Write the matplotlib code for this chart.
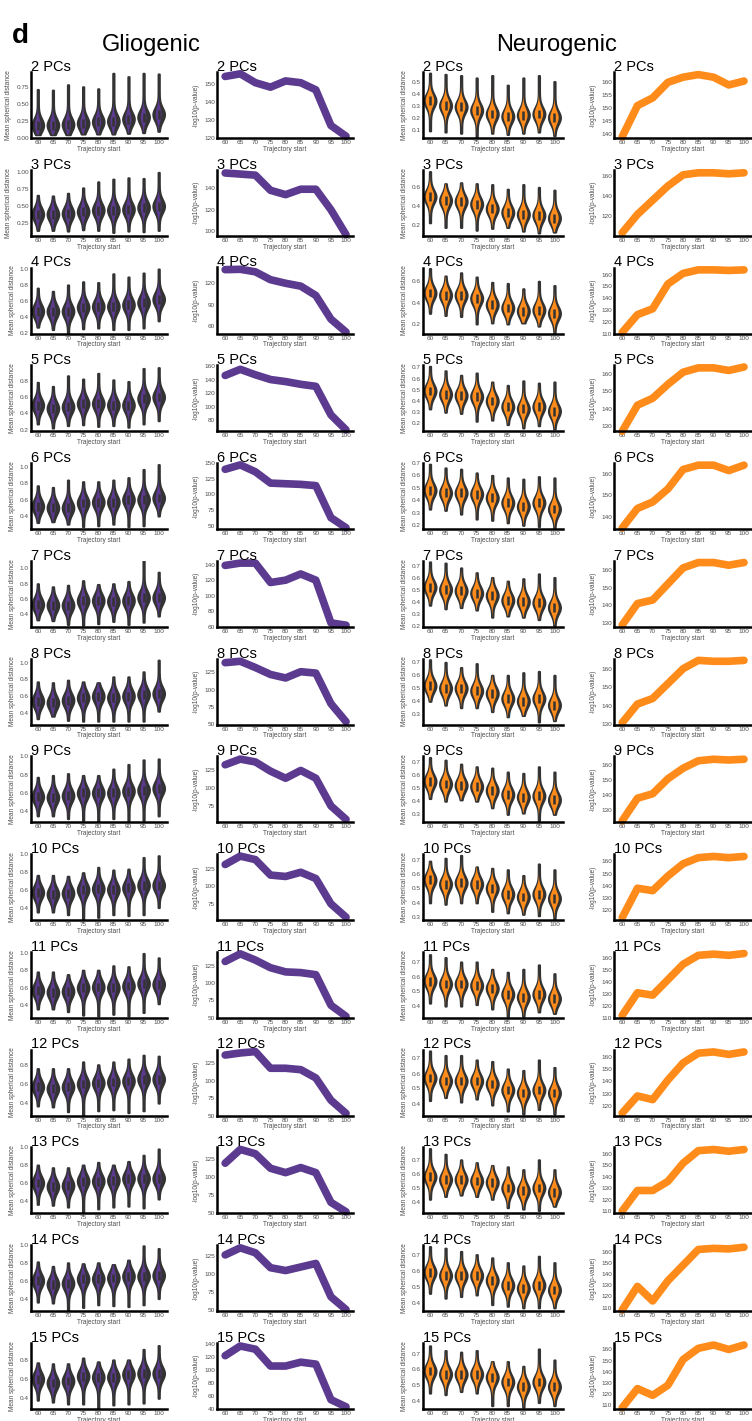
import numpy as np
import matplotlib
matplotlib.use('Agg')
import matplotlib.pyplot as plt
from matplotlib.ticker import MultipleLocator, FormatStrFormatter

plt.rcParams['font.family'] = ['Liberation Sans', 'DejaVu Sans']

starts = [60, 65, 70, 75, 80, 85, 90, 95, 100]
pcs = list(range(2, 16))

# -log10(p-value) per trajectory start
glio_pval = {
    2: [154.5, 156, 151, 148.5, 152, 151, 147, 127, 121],
    3: [154, 153, 152, 138, 134, 139, 139, 120, 97],
    4: [139, 139.5, 136, 125, 120, 116, 103, 70, 52],
    5: [146, 155, 147, 140, 137, 133, 130, 88, 66],
    6: [140, 147, 136, 118, 117, 116, 114, 63, 47],
    7: [139, 142, 142, 117, 120, 128, 120, 65, 62],
    8: [139, 141, 132, 122, 117, 126, 124, 80, 54],
    9: [133, 141, 137, 124, 114, 125, 114, 75, 56],
    10: [131, 143, 138, 116, 114, 120, 111, 75, 56],
    11: [131, 142, 133, 122, 116, 115, 112, 68, 52],
    12: [137, 140, 142, 118, 118, 116, 104, 72, 53],
    13: [119, 138, 132, 112, 106, 113, 106, 65, 52],
    14: [127, 137, 130, 109, 105, 110, 115, 68, 50],
    15: [122, 137, 132, 106, 106, 112, 109, 54, 43],
}
neuro_pval = {
    2: [139, 151, 154, 160, 162, 163, 162, 159, 160.5],
    3: [104, 122, 136, 150, 161, 163, 163, 162, 163],
    4: [111, 126, 131, 152, 161, 164, 164, 163.5, 164],
    5: [127, 142, 146, 154, 161, 163.5, 163.5, 162, 164],
    6: [135, 144, 147, 153, 162, 164, 164, 161.5, 164],
    7: [129, 141, 143, 152, 161, 164, 164, 162.5, 164],
    8: [131, 141, 144, 152, 160, 164.5, 164, 164, 164.5],
    9: [123, 138, 141, 151, 158, 163, 164, 163.5, 164],
    10: [114, 138, 136, 148, 158, 163, 164, 163, 164],
    11: [112, 131, 129, 142, 155, 162.5, 163.5, 162.5, 164],
    12: [114, 128, 125, 141, 155, 163, 164, 162, 164],
    13: [110, 128, 128, 136, 152, 163, 164, 162.5, 164],
    14: [108, 129, 116, 134, 148, 162, 163, 162.5, 164],
    15: [108, 125, 119, 128, 151, 161, 164, 160, 164],
}
glio_plim = {2: (120, 157), 3: (96, 157), 4: (50, 142), 5: (64, 161),
             6: (45, 150), 7: (60, 145), 8: (50, 145), 9: (52, 145),
             10: (52, 146), 11: (50, 145), 12: (50, 145), 13: (50, 141),
             14: (48, 141), 15: (40, 142)}
neuro_plim = {2: (138.5, 164), 3: (101, 166), 4: (110, 166), 5: (127, 165),
              6: (134.5, 165), 7: (128, 165), 8: (130, 165.5), 9: (122, 166),
              10: (112, 166), 11: (110, 165.5), 12: (112, 166), 13: (108, 166),
              14: (107, 166), 15: (107, 166)}
glio_pstep = {2: 10, 3: 20, 4: 30, 5: 20, 6: 25, 7: 20, 8: 25, 9: 25,
              10: 25, 11: 25, 12: 25, 13: 25, 14: 25, 15: 20}
neuro_pstep = {2: 5, 3: 20, 4: 10, 5: 10, 6: 10, 7: 10, 8: 10, 9: 10,
               10: 10, 11: 10, 12: 10, 13: 10, 14: 10, 15: 10}

# mean spherical distance: median, lowest and highest value per violin
glio_med = {
    2: [0.19, 0.19, 0.2, 0.22, 0.24, 0.25, 0.28, 0.31, 0.35],
    3: [0.38, 0.38, 0.39, 0.42, 0.44, 0.44, 0.45, 0.48, 0.5],
    4: [0.47, 0.47, 0.47, 0.52, 0.53, 0.53, 0.55, 0.58, 0.62],
    5: [0.5, 0.46, 0.48, 0.52, 0.52, 0.5, 0.5, 0.58, 0.6],
    6: [0.52, 0.5, 0.5, 0.56, 0.57, 0.57, 0.6, 0.6, 0.62],
    7: [0.53, 0.52, 0.52, 0.58, 0.58, 0.57, 0.58, 0.62, 0.62],
    8: [0.54, 0.52, 0.55, 0.58, 0.6, 0.58, 0.6, 0.62, 0.63],
    9: [0.56, 0.55, 0.57, 0.6, 0.6, 0.6, 0.62, 0.63, 0.65],
    10: [0.57, 0.55, 0.56, 0.6, 0.61, 0.6, 0.62, 0.65, 0.65],
    11: [0.57, 0.55, 0.56, 0.6, 0.61, 0.6, 0.62, 0.65, 0.64],
    12: [0.57, 0.55, 0.57, 0.6, 0.61, 0.62, 0.63, 0.65, 0.65],
    13: [0.6, 0.56, 0.57, 0.62, 0.62, 0.63, 0.65, 0.65, 0.65],
    14: [0.6, 0.56, 0.57, 0.62, 0.62, 0.63, 0.65, 0.65, 0.66],
    15: [0.6, 0.56, 0.58, 0.63, 0.62, 0.62, 0.65, 0.66, 0.66],
}
glio_lo = {
    2: [0.05, 0.05, 0.05, 0.06, 0.06, 0.06, 0.07, 0.08, 0.1],
    3: [0.14, 0.14, 0.13, 0.15, 0.14, 0.11, 0.13, 0.12, 0.14],
    4: [0.27, 0.24, 0.19, 0.25, 0.26, 0.24, 0.24, 0.26, 0.35],
    5: [0.27, 0.22, 0.25, 0.26, 0.24, 0.25, 0.23, 0.27, 0.31],
    6: [0.32, 0.33, 0.3, 0.27, 0.28, 0.3, 0.27, 0.28, 0.4],
    7: [0.33, 0.32, 0.27, 0.26, 0.28, 0.31, 0.27, 0.3, 0.38],
    8: [0.33, 0.36, 0.31, 0.3, 0.3, 0.3, 0.3, 0.3, 0.42],
    9: [0.35, 0.35, 0.32, 0.3, 0.29, 0.32, 0.3, 0.3, 0.35],
    10: [0.35, 0.35, 0.32, 0.27, 0.29, 0.32, 0.31, 0.32, 0.4],
    11: [0.36, 0.36, 0.33, 0.29, 0.28, 0.3, 0.28, 0.32, 0.42],
    12: [0.37, 0.36, 0.31, 0.27, 0.32, 0.33, 0.3, 0.32, 0.4],
    13: [0.36, 0.35, 0.33, 0.27, 0.31, 0.33, 0.34, 0.32, 0.42],
    14: [0.36, 0.35, 0.26, 0.3, 0.33, 0.32, 0.31, 0.33, 0.4],
    15: [0.38, 0.36, 0.34, 0.34, 0.28, 0.33, 0.34, 0.35, 0.4],
}
glio_hi = {
    2: [0.72, 0.71, 0.79, 0.76, 0.73, 0.96, 0.91, 0.96, 0.95],
    3: [0.66, 0.65, 0.69, 0.77, 0.86, 0.9, 0.92, 0.91, 1.0],
    4: [0.76, 0.72, 0.8, 0.84, 0.83, 0.94, 0.9, 0.95, 1.0],
    5: [0.78, 0.73, 0.86, 0.82, 0.89, 0.81, 0.79, 0.95, 0.96],
    6: [0.77, 0.75, 0.84, 0.82, 0.82, 0.84, 0.87, 0.97, 1.03],
    7: [0.8, 0.76, 0.78, 0.84, 0.79, 0.8, 0.83, 1.1, 0.95],
    8: [0.77, 0.76, 0.79, 0.77, 0.76, 0.83, 0.83, 0.89, 1.03],
    9: [0.77, 0.79, 0.81, 0.79, 0.79, 0.86, 0.91, 0.96, 0.97],
    10: [0.76, 0.76, 0.75, 0.79, 0.85, 0.82, 0.83, 0.96, 0.98],
    11: [0.78, 0.78, 0.75, 0.8, 0.8, 0.85, 0.84, 0.99, 0.94],
    12: [0.76, 0.76, 0.76, 0.83, 0.8, 0.83, 0.86, 0.9, 0.89],
    13: [0.8, 0.77, 0.77, 0.8, 0.83, 0.8, 0.84, 0.91, 0.98],
    14: [0.81, 0.76, 0.8, 0.79, 0.8, 0.78, 0.83, 0.99, 0.96],
    15: [0.77, 0.76, 0.76, 0.82, 0.78, 0.8, 0.8, 0.91, 0.95],
}
neuro_med = {
    2: [0.34, 0.3, 0.29, 0.26, 0.23, 0.21, 0.22, 0.23, 0.2],
    3: [0.5, 0.46, 0.45, 0.42, 0.37, 0.33, 0.31, 0.3, 0.27],
    4: [0.49, 0.47, 0.47, 0.44, 0.38, 0.35, 0.32, 0.33, 0.3],
    5: [0.49, 0.46, 0.45, 0.44, 0.4, 0.35, 0.33, 0.35, 0.31],
    6: [0.48, 0.46, 0.46, 0.45, 0.42, 0.38, 0.35, 0.38, 0.33],
    7: [0.52, 0.5, 0.49, 0.47, 0.45, 0.41, 0.4, 0.39, 0.35],
    8: [0.52, 0.5, 0.5, 0.48, 0.46, 0.42, 0.4, 0.42, 0.37],
    9: [0.55, 0.53, 0.52, 0.51, 0.48, 0.45, 0.43, 0.44, 0.41],
    10: [0.56, 0.53, 0.54, 0.53, 0.5, 0.46, 0.44, 0.46, 0.43],
    11: [0.57, 0.55, 0.55, 0.54, 0.52, 0.48, 0.46, 0.48, 0.45],
    12: [0.57, 0.55, 0.55, 0.55, 0.53, 0.49, 0.47, 0.49, 0.47],
    13: [0.58, 0.56, 0.56, 0.55, 0.54, 0.5, 0.48, 0.5, 0.47],
    14: [0.59, 0.57, 0.57, 0.57, 0.54, 0.51, 0.49, 0.51, 0.48],
    15: [0.59, 0.57, 0.57, 0.57, 0.55, 0.52, 0.49, 0.52, 0.49],
}
neuro_lo = {
    2: [0.09, 0.08, 0.07, 0.03, 0.07, 0.06, 0.07, 0.08, 0.05],
    3: [0.22, 0.17, 0.17, 0.14, 0.16, 0.17, 0.13, 0.11, 0.12],
    4: [0.3, 0.28, 0.27, 0.2, 0.21, 0.2, 0.21, 0.18, 0.11],
    5: [0.33, 0.3, 0.29, 0.22, 0.23, 0.19, 0.16, 0.18, 0.15],
    6: [0.33, 0.32, 0.29, 0.25, 0.24, 0.22, 0.2, 0.19, 0.18],
    7: [0.37, 0.34, 0.35, 0.33, 0.27, 0.28, 0.27, 0.25, 0.2],
    8: [0.4, 0.37, 0.35, 0.35, 0.32, 0.28, 0.29, 0.24, 0.25],
    9: [0.42, 0.4, 0.41, 0.4, 0.35, 0.3, 0.31, 0.25, 0.3],
    10: [0.4, 0.39, 0.4, 0.4, 0.34, 0.33, 0.32, 0.31, 0.28],
    11: [0.42, 0.4, 0.4, 0.41, 0.38, 0.33, 0.33, 0.36, 0.35],
    12: [0.42, 0.44, 0.41, 0.43, 0.39, 0.35, 0.33, 0.36, 0.33],
    13: [0.42, 0.44, 0.45, 0.44, 0.42, 0.36, 0.35, 0.34, 0.37],
    14: [0.46, 0.43, 0.44, 0.45, 0.39, 0.38, 0.37, 0.37, 0.37],
    15: [0.45, 0.44, 0.46, 0.45, 0.37, 0.37, 0.36, 0.39, 0.37],
}
neuro_hi = {
    2: [0.57, 0.56, 0.55, 0.53, 0.55, 0.47, 0.53, 0.55, 0.5],
    3: [0.77, 0.64, 0.65, 0.64, 0.63, 0.58, 0.63, 0.6, 0.57],
    4: [0.72, 0.65, 0.68, 0.64, 0.59, 0.58, 0.53, 0.6, 0.56],
    5: [0.71, 0.67, 0.63, 0.65, 0.57, 0.54, 0.58, 0.56, 0.57],
    6: [0.69, 0.66, 0.65, 0.62, 0.6, 0.58, 0.57, 0.59, 0.58],
    7: [0.73, 0.72, 0.68, 0.64, 0.6, 0.57, 0.59, 0.63, 0.6],
    8: [0.72, 0.7, 0.66, 0.69, 0.6, 0.6, 0.62, 0.63, 0.6],
    9: [0.73, 0.71, 0.68, 0.66, 0.65, 0.62, 0.61, 0.66, 0.62],
    10: [0.69, 0.71, 0.73, 0.65, 0.64, 0.63, 0.59, 0.67, 0.63],
    11: [0.75, 0.73, 0.7, 0.7, 0.65, 0.63, 0.65, 0.68, 0.62],
    12: [0.75, 0.72, 0.72, 0.69, 0.68, 0.63, 0.62, 0.69, 0.64],
    13: [0.78, 0.74, 0.7, 0.68, 0.66, 0.65, 0.63, 0.7, 0.63],
    14: [0.75, 0.74, 0.72, 0.7, 0.68, 0.65, 0.63, 0.69, 0.65],
    15: [0.75, 0.72, 0.71, 0.72, 0.65, 0.65, 0.62, 0.73, 0.66],
}
glio_vlim = {2: (0, 0.98), 3: (0.06, 1.04), 4: (0.19, 1.02), 5: (0.18, 0.99),
             6: (0.24, 1.05), 7: (0.24, 1.1), 8: (0.26, 1.05), 9: (0.28, 1.0),
             10: (0.26, 1.0), 11: (0.26, 1.01), 12: (0.27, 0.96), 13: (0.26, 1.0),
             14: (0.26, 1.0), 15: (0.29, 0.98)}
neuro_vlim = {2: (0.03, 0.58), 3: (0.08, 0.79), 4: (0.11, 0.73), 5: (0.13, 0.72),
              6: (0.17, 0.7), 7: (0.19, 0.74), 8: (0.22, 0.73), 9: (0.24, 0.74),
              10: (0.28, 0.74), 11: (0.32, 0.77), 12: (0.32, 0.76), 13: (0.32, 0.79),
              14: (0.35, 0.76), 15: (0.35, 0.77)}
glio_vstep = {k: (0.25 if k in (2, 3) else 0.2) for k in pcs}
neuro_vstep = {k: (0.2 if k in (3, 4) else 0.1) for k in pcs}

PURPLE = '#5c3a8f'
ORANGE = '#ff8c1a'
DARK = '#333333'
GREY = '#4d4d4d'

W, H = 752, 1421
fig = plt.figure(figsize=(W / 100, H / 100), dpi=100)

col_left = [31, 217, 423, 614]
col_right = [167, 353, 563, 751]
row_top0, row_step, ax_h = 72, 97.75, 66


def make_axes(col, row):
    top = row_top0 + row_step * row
    l, r = col_left[col], col_right[col]
    ax = fig.add_axes([l / W, 1 - (top + ax_h) / H, (r - l) / W, ax_h / H])
    for s in ('top', 'right'):
        ax.spines[s].set_visible(False)
    for s in ('left', 'bottom'):
        ax.spines[s].set_linewidth(1.8)
        ax.spines[s].set_color('black')
    ax.tick_params(labelsize=4.6, labelcolor=GREY, length=0, pad=1.5)
    fig.text(l / W, 1 - (top - 1) / H, f'{pcs[row]} PCs', fontsize=10.5,
             ha='left', va='baseline')
    return ax


def shape_stats(lo, med, hi, spread, floor):
    stats = []
    for a, m, b in zip(lo, med, hi):
        y = np.linspace(a, b, 150)
        d = np.exp(-0.5 * ((y - m) / spread) ** 2) + floor
        stats.append(dict(coords=y, vals=d, mean=m, median=m, min=a, max=b))
    return stats


def draw_violins(ax, k, med, lo, hi, vlim, vstep, color, inner_frac, fmt):
    spread = 0.1 * (vlim[k][1] - vlim[k][0])
    pos = np.arange(len(starts))
    outer = ax.violin(shape_stats(lo[k], med[k], hi[k], spread, 0.1), positions=pos,
                      widths=0.76, showmeans=False, showextrema=False, showmedians=False)
    for b in outer['bodies']:
        b.set_facecolor(DARK)
        b.set_edgecolor(DARK)
        b.set_linewidth(1.6)
        b.set_alpha(1)
    inner = ax.violin(shape_stats(lo[k], med[k], hi[k], spread, 0.0), positions=pos,
                      widths=0.76 * inner_frac, showmeans=False, showextrema=False,
                      showmedians=False)
    for b in inner['bodies']:
        b.set_facecolor(color)
        b.set_edgecolor('none')
        b.set_alpha(1)
    m = np.array(med[k])
    ax.vlines(pos, m - 0.67 * spread, m + 0.67 * spread, color=DARK, lw=1.8)
    ax.set_xlim(-0.45, 8.55)
    ax.set_ylim(*vlim[k])
    ax.set_xticks(pos)
    ax.set_xticklabels([str(s) for s in starts])
    ax.yaxis.set_major_locator(MultipleLocator(vstep[k]))
    ax.yaxis.set_major_formatter(FormatStrFormatter(fmt))
    ax.set_xlabel('Trajectory start', fontsize=4.7, color=GREY, labelpad=0.5)
    ax.set_ylabel('Mean spherical distance', fontsize=4.7, color=GREY, labelpad=3)


def draw_line(ax, k, pval, plim, pstep, color):
    ax.plot(starts, pval[k], color=color, lw=5.5, solid_capstyle='round',
            solid_joinstyle='round', clip_on=False)
    ax.set_xlim(57.3, 102.3)
    ax.set_ylim(*plim[k])
    ax.set_xticks(starts)
    ax.yaxis.set_major_locator(MultipleLocator(pstep[k]))
    ax.yaxis.set_major_formatter(FormatStrFormatter('%d'))
    ax.set_xlabel('Trajectory start', fontsize=4.7, color=GREY, labelpad=0.5)
    ax.set_ylabel('-log10(p-value)', fontsize=4.7, color=GREY, labelpad=3)


for r, k in enumerate(pcs):
    ax = make_axes(0, r)
    draw_violins(ax, k, glio_med, glio_lo, glio_hi, glio_vlim, glio_vstep, PURPLE, 0.5,
                 '%.2f' if k in (2, 3) else '%.1f')
    ax = make_axes(1, r)
    draw_line(ax, k, glio_pval, glio_plim, glio_pstep, PURPLE)
    ax = make_axes(2, r)
    draw_violins(ax, k, neuro_med, neuro_lo, neuro_hi, neuro_vlim, neuro_vstep, ORANGE,
                 0.72, '%.1f')
    ax = make_axes(3, r)
    draw_line(ax, k, neuro_pval, neuro_plim, neuro_pstep, ORANGE)

fig.text(151 / W, 1 - 51 / H, 'Gliogenic', fontsize=17, ha='center', va='baseline')
fig.text(557 / W, 1 - 51 / H, 'Neurogenic', fontsize=17, ha='center', va='baseline')
fig.text(12 / W, 1 - 43 / H, 'd', fontsize=20, fontweight='bold', ha='left',
         va='baseline')

fig.savefig('out.png', dpi=100, facecolor='white')
